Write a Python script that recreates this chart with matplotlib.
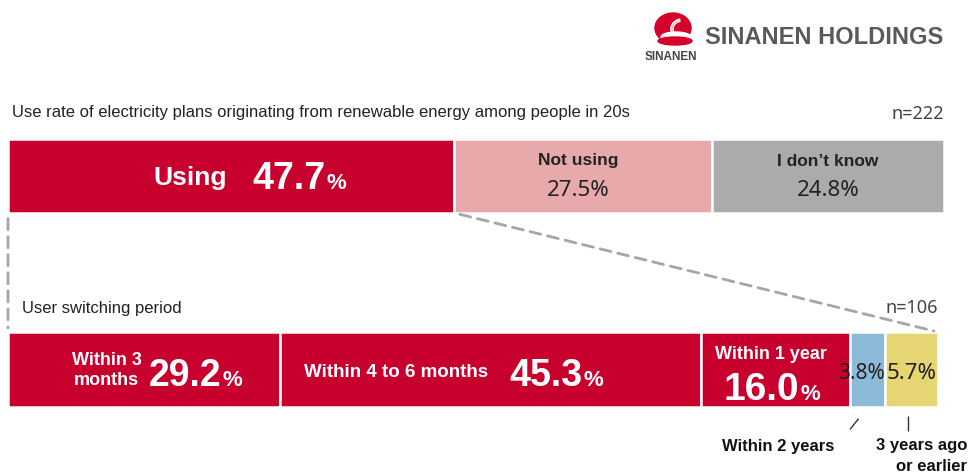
import numpy as np
import matplotlib
matplotlib.use("Agg")
import matplotlib.pyplot as plt
from matplotlib.patches import ConnectionPatch, Ellipse, Arc
from matplotlib.transforms import offset_copy

plt.rcParams['font.family'] = ['Liberation Sans', 'DejaVu Sans']

# top bar: use rate among people in 20s (n=222)
top_labels = ['Using', 'Not using', 'I don\u2019t know']
top_values = [47.7, 27.5, 24.8]
top_colors = ['#c8002e', '#e8a9ab', '#ababab']

# bottom bar: switching period of users (n=106)
bot_labels = ['Within 3\nmonths', 'Within 4 to 6 months', 'Within 1 year',
              'Within 2 years', '3 years ago\nor earlier']
bot_values = [29.2, 45.3, 16.0, 3.8, 5.7]
bot_colors = ['#c8002e', '#c8002e', '#c8002e', '#8dbad9', '#e6d673']

W, H = 969, 477
fig = plt.figure(figsize=(W / 100, H / 100), dpi=100)

def fx(x):
    return x / W

def fy(y):
    return 1 - y / H

ax1 = fig.add_axes([fx(8), fy(214), 936 / W, 74 / H])
ax2 = fig.add_axes([fx(8), fy(408), 930 / W, 75 / H])

def stacked(ax, values, colors):
    left = np.concatenate([[0], np.cumsum(values)[:-1]])
    ax.barh(0, values, left=left, height=1, color=colors,
            edgecolor='white', linewidth=1.8)
    ax.set_xlim(0, 100)
    ax.set_ylim(-0.5, 0.5)
    ax.axis('off')
    return left + np.array(values) / 2

c1 = stacked(ax1, top_values, top_colors)
c2 = stacked(ax2, bot_values, bot_colors)

def lab(ax, s, xc, dx, dy, **kw):
    ax.annotate(s, xy=(xc, 0), xytext=(dx, dy), textcoords='offset pixels', **kw)

white_b = dict(color='white', fontweight='bold')
num_font = ['Noto Sans', 'DejaVu Sans']

# top bar labels
lab(ax1, top_labels[0], c1[0], -4, -8, ha='right', va='baseline', fontsize=19, **white_b)
lab(ax1, f'{top_values[0]:.1f}', c1[0], 94, -12, ha='right', va='baseline', fontsize=27, **white_b)
lab(ax1, '%', c1[0], 95, -12, ha='left', va='baseline', fontsize=16, **white_b)
for i in (1, 2):
    lab(ax1, top_labels[i], c1[i], -5 if i == 1 else 0, 16, ha='center', va='center',
        fontsize=12.5, fontweight='bold', color='#222222')
    lab(ax1, f'{top_values[i]:.1f}%', c1[i], -5 if i == 1 else 0, -13, ha='center', va='center',
        fontsize=16, color='#222222', family=num_font)

# bottom bar labels
lab(ax2, bot_labels[0], c2[0], -37, 0, ha='center', va='center', fontsize=13,
    linespacing=1.2, **white_b)
lab(ax2, f'{bot_values[0]:.1f}', c2[0], 78, -16, ha='right', va='baseline', fontsize=27, **white_b)
lab(ax2, '%', c2[0], 79, -16, ha='left', va='baseline', fontsize=16, **white_b)

lab(ax2, bot_labels[1], c2[1], -94, -2, ha='center', va='center', fontsize=13.5, **white_b)
lab(ax2, f'{bot_values[1]:.1f}', c2[1], 92, -16, ha='right', va='baseline', fontsize=27, **white_b)
lab(ax2, '%', c2[1], 93, -16, ha='left', va='baseline', fontsize=16, **white_b)

lab(ax2, bot_labels[2], c2[2], -4, 16, ha='center', va='center', fontsize=13, **white_b)
lab(ax2, f'{bot_values[2]:.1f}', c2[2], 24, -29, ha='right', va='baseline', fontsize=28, **white_b)
lab(ax2, '%', c2[2], 25, -29, ha='left', va='baseline', fontsize=16, **white_b)

lab(ax2, f'{bot_values[3]:.1f}%', c2[3], -6, -3, ha='center', va='center',
    fontsize=15, color='#222222', family=num_font)
lab(ax2, f'{bot_values[4]:.1f}%', c2[4], 0, -3, ha='center', va='center',
    fontsize=16, color='#222222', family=num_font)

# leader lines and labels under the two small segments
def shifted(dx, dy):
    return offset_copy(ax2.transData, fig=fig, x=dx, y=dy, units='dots')

line_kw = dict(arrowstyle='-', color='#333333', lw=1, shrinkA=0, shrinkB=0)
ax2.annotate('', xy=(c2[3], -0.5), xycoords=shifted(-9, -12),
             xytext=(c2[3], -0.5), textcoords=shifted(-17, -22), arrowprops=line_kw)
ax2.annotate('', xy=(c2[4], -0.5), xycoords=shifted(-3, -10),
             xytext=(c2[4], -0.5), textcoords=shifted(-3, -24), arrowprops=line_kw)
ax2.annotate(bot_labels[3], xy=(c2[3], -0.5), xytext=(-89, -38), textcoords='offset pixels',
             ha='center', va='center', fontsize=12, fontweight='bold', color='#111111')
ax2.annotate(bot_labels[4], xy=(c2[4], -0.5), xytext=(56, -30), textcoords='offset pixels',
             ha='right', va='top', fontsize=12, fontweight='bold', color='#111111',
             multialignment='right', linespacing=1.5)

# dashed connectors from "Using" to the breakdown bar
for xa, xb in ((0, 0), (top_values[0], 100)):
    con = ConnectionPatch(xyA=(xa, -0.5), coordsA=ax1.transData,
                          xyB=(xb, 0.5), coordsB=ax2.transData,
                          color='#a6a6a6', lw=2, linestyle=(0, (4, 2.5)),
                          shrinkA=4, shrinkB=3)
    fig.add_artist(con)

# titles
fig.text(fx(12), fy(112), 'Use rate of electricity plans originating from renewable energy among people in 20s',
         fontsize=12, color='#222222', va='center', ha='left')
fig.text(fx(944), fy(114), 'n=222', fontsize=13, color='#444444', va='center', ha='right',
         family=num_font)
fig.text(fx(22), fy(309), 'User switching period', fontsize=12, color='#222222', va='center', ha='left')
fig.text(fx(938), fy(308), 'n=106', fontsize=13, color='#444444', va='center', ha='right',
         family=num_font)

# logo
logo = fig.add_axes([fx(650), fy(50), 45 / W, 40 / H])
logo.set_xlim(0, 45)
logo.set_ylim(0, 40)
logo.axis('off')
logo.add_patch(Ellipse((23, 21), 36, 30, color='#d7002a'))
logo.add_patch(Ellipse((26, 12), 30, 10, color='white'))
logo.add_patch(Ellipse((25, 8), 34, 8, color='#d7002a'))
for r in (18, 22):
    logo.add_patch(Arc((32, 20), r, r * 0.9, theta1=100, theta2=200, color='white', lw=1.2))
fig.text(fx(645), fy(57), 'SINANEN', fontsize=8.5, fontweight='bold', color='#444444',
         va='center', ha='left')
fig.text(fx(705), fy(38), 'SINANEN HOLDINGS', fontsize=17, fontweight='bold', color='#5a5a5a',
         va='center', ha='left')

fig.savefig('out.png', dpi=100)
